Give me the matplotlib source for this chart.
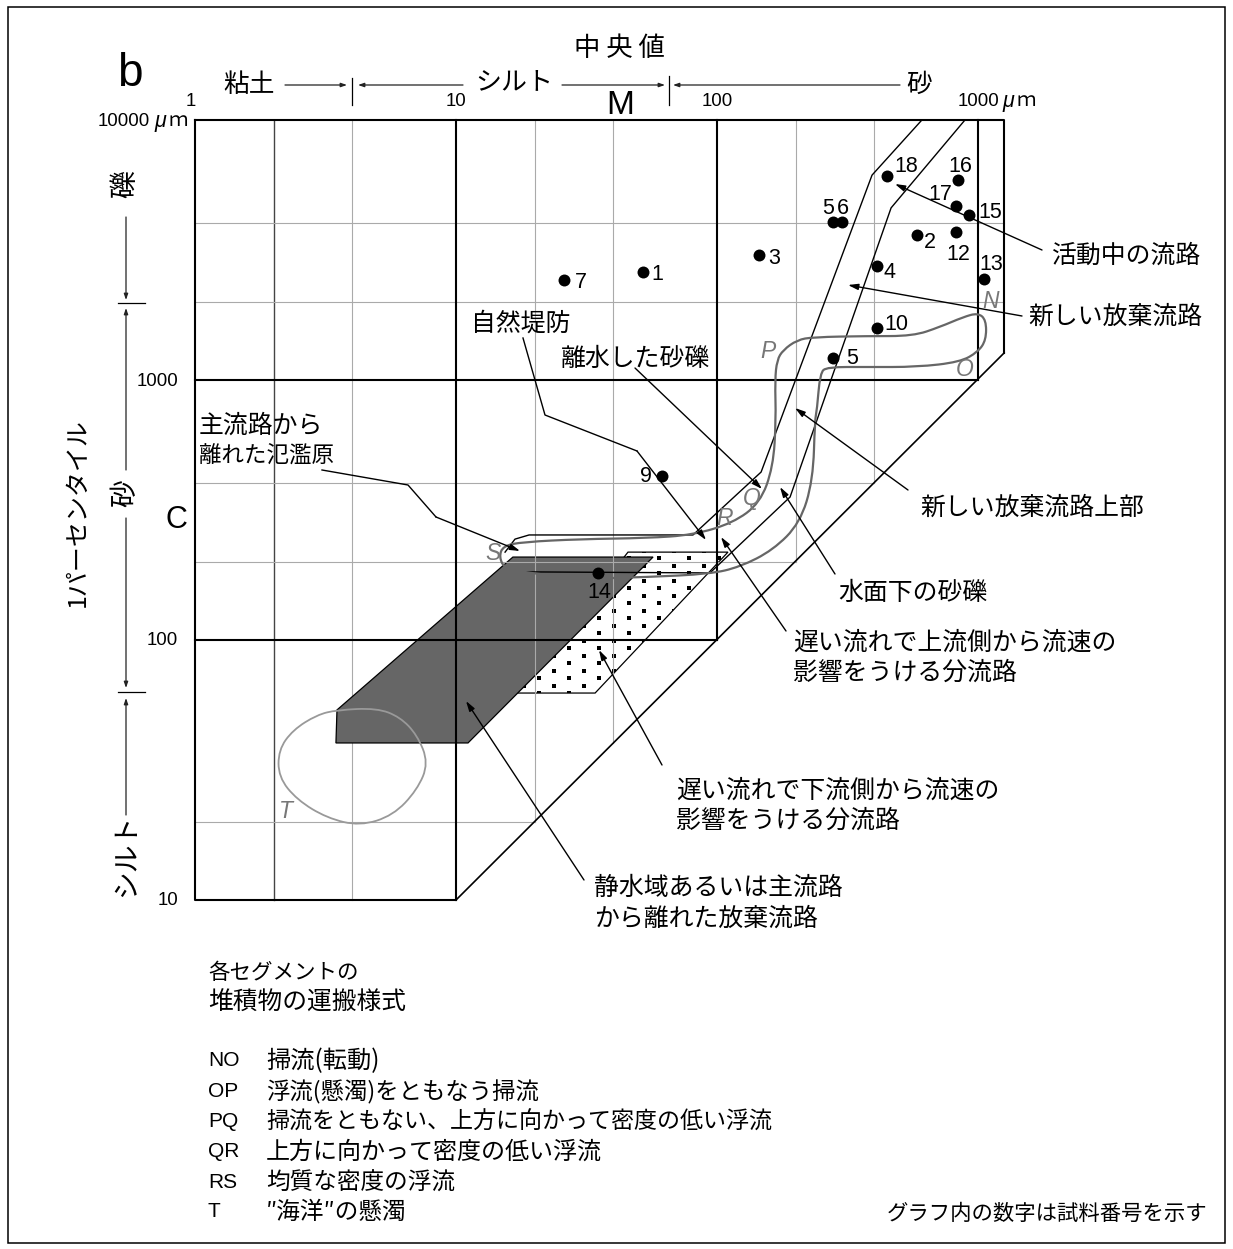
import numpy as np
import matplotlib
matplotlib.use('Agg')
import matplotlib.pyplot as plt
from matplotlib.path import Path
from matplotlib.patches import PathPatch, Polygon, Rectangle
from matplotlib.transforms import Affine2D

# samples : median M and one percentile C, in micrometres
sample_names = ['1', '2', '3', '4', '5', '5', '6', '7', '9', '10', '12', '13', '14', '15', '16', '17', '18']
sample_M = [52, 583, 145, 410, 278, 278, 301, 26, 61.5, 410, 824, 1054, 35, 925, 838, 824, 448]
sample_C = [2600, 3614, 3027, 2742, 4055, 1216, 4055, 2427, 428, 1585, 3707, 2443, 181, 4315, 5875, 4667, 6095]

# envelopes, log10(M) and log10(C)
channel_left_lM = [2.785, 2.594, 2.169, 1.908, 1.280, 1.226, 1.188]
channel_left_lC = [4.000, 3.788, 2.646, 2.404, 2.404, 2.388, 2.338]
channel_right_lM = [2.950, 2.667, 2.280, 1.973, 1.272]
channel_right_lC = [4.000, 3.662, 2.550, 2.258, 2.262]

loop_lM = [3.000, 3.031, 3.031, 3.000, 2.931, 2.766, 2.575, 2.421, 2.395, 2.383, 2.375, 2.368, 2.318,
           2.215, 2.088, 1.973, 1.732, 1.475, 1.284, 1.188, 1.165, 1.180, 1.257, 1.475, 1.732, 1.908,
           2.061, 2.165, 2.215, 2.226, 2.222, 2.230, 2.253, 2.307, 2.368, 2.575, 2.751, 2.854, 2.943]
loop_lC = [3.258, 3.231, 3.154, 3.108, 3.069, 3.050, 3.050, 3.050, 3.027, 2.885, 2.846, 2.615, 2.450,
           2.346, 2.281, 2.254, 2.242, 2.235, 2.258, 2.273, 2.319, 2.362, 2.377, 2.388, 2.392, 2.404,
           2.450, 2.527, 2.665, 2.846, 3.000, 3.077, 3.115, 3.154, 3.165, 3.169, 3.169, 3.204, 3.242]

blob_lM = [0.544, 0.697, 0.785, 0.851, 0.895, 0.851, 0.759, 0.632, 0.506, 0.391, 0.320, 0.320, 0.375, 0.467]
blob_lC = [1.731, 1.738, 1.704, 1.635, 1.527, 1.423, 1.325, 1.285, 1.315, 1.385, 1.473, 1.577, 1.654, 1.712]

dark_lM = [0.544, 1.218, 1.755, 1.046, 0.540]
dark_lC = [1.731, 2.319, 2.319, 1.604, 1.604]
dotted_lM = [1.659, 2.042, 1.533, 1.234]
dotted_lC = [2.338, 2.338, 1.796, 1.796]

grid_M = [20, 40, 200, 400]
grid_C = [4000, 2000, 400, 200, 20]

W, H = 1233, 1249
JP = ['Noto Sans CJK JP', 'DejaVu Sans']
LAT = ['Liberation Sans', 'DejaVu Sans']

fig = plt.figure(figsize=(W / 100, H / 100), dpi=100)
ax = fig.add_axes([0, 0, 1, 1])
ax.set_xscale('log')
ax.set_yscale('log')
ax.set_xlim(10 ** (-195 / 261), 10 ** ((W - 195) / 261))
ax.set_ylim(10 ** (1 + (900 - H) / 260), 10 ** (1 + 900 / 260))
ax.axis('off')

# picture pixels, for text and leader lines
ptr = Affine2D().scale(1 / W, -1 / H).translate(0, 1) + fig.transFigure


def pw(a):
    return 10 ** np.array(a)


def smooth_path(lx, ly):
    # closed quadratic spline, the points are control points
    pts = np.column_stack([pw(lx), pw(ly)])
    # midpoints taken in log space so the curve stays even on the page
    lp = np.column_stack([lx, ly])
    mid = 10 ** ((lp + np.roll(lp, -1, axis=0)) / 2)
    verts = [mid[-1]]
    codes = [Path.MOVETO]
    for i in range(len(pts)):
        verts += [pts[i], mid[i]]
        codes += [Path.CURVE3, Path.CURVE3]
    return Path(verts, codes)


def label(x, y, s, size=17.9, ha='left', va='center', family=JP, **kw):
    ax.text(x, y + 2, s, transform=ptr, fontsize=size, ha=ha, va=va, family=family, **kw)


def leader(pts):
    xs = [p[0] for p in pts[:-1]]
    ys = [p[1] for p in pts[:-1]]
    ax.plot(xs, ys, color='k', lw=1, transform=ptr, zorder=8)
    ax.annotate('', xy=pts[-1], xytext=pts[-2], xycoords=ptr, textcoords=ptr, zorder=8,
                arrowprops=dict(arrowstyle='-|>,head_length=0.6,head_width=0.18', color='k', lw=1,
                                shrinkA=0, shrinkB=0))


def span(pts):
    ax.annotate('', xy=pts[1], xytext=pts[0], xycoords=ptr, textcoords=ptr,
                arrowprops=dict(arrowstyle='-|>,head_length=0.35,head_width=0.12', color='#222', lw=0.9,
                                shrinkA=0, shrinkB=0))


fig.add_artist(Rectangle((8 / W, 1 - 1243 / H), (1225 - 8) / W, (1243 - 7) / H, fill=False, ec='k', lw=1.1,
                         transform=fig.transFigure))

# thin grid
for m in [2, 4]:
    ax.plot([m, m], [10, 10000], color='#444444' if m == 2 else '#aaaaaa', lw=1 if m == 2 else 0.8, zorder=2)
for m in grid_M:
    ax.plot([m, m], [m, 10000], color='#aaaaaa', lw=0.8, zorder=3)
for c in grid_C:
    ax.plot([1, min(10 ** 3.1, c)], [c, c], color='#aaaaaa', lw=0.8, zorder=3)

# shaded segments
ax.add_patch(Polygon(np.column_stack([pw(dotted_lM), pw(dotted_lC)]), closed=True, fc='white', ec='k', lw=0.9, zorder=1))
dot_clip = Polygon(np.column_stack([pw(dotted_lM), pw(dotted_lC)]), closed=True, transform=ax.transData)
dx = 30 / 261
dy = 7.5 / 260
dot_x, dot_y = [], []
for k in range(-2, 22):
    for n in range(-8, 4):
        dot_x.append(1.778 + n * dx + (k % 2) * dx / 2)
        dot_y.append(2.315 - k * dy)
dots = ax.scatter(pw(dot_x), pw(dot_y), marker='s', s=7, color='k', lw=0, zorder=1.5)
dots.set_clip_path(dot_clip)
ax.add_patch(Polygon(np.column_stack([pw(dark_lM), pw(dark_lC)]), closed=True, fc='#666666', ec='k', lw=0.9, zorder=2.5))

# box of the diagram
box = dict(color='k', lw=1.5, zorder=5, solid_capstyle='projecting')
ax.plot([1, 1, 10], [10000, 10, 10], **box)
ax.plot([1, 10 ** 3.1, 10 ** 3.1], [10000, 10000, 10 ** 3.104], **box)
ax.plot([1000, 1000], [10000, 1000], **box)
ax.plot([10, 10], [10000, 10], **box)
ax.plot([100, 100], [10000, 100], **box)
ax.plot([1, 1000], [1000, 1000], **box)
ax.plot([1, 100], [100, 100], **box)
ax.plot([10 ** 3.1, 10], [10 ** 3.104, 10], color='k', lw=1.2, zorder=5)

# channels
ax.plot(pw(channel_left_lM), pw(channel_left_lC), color='k', lw=1, zorder=6)
ax.plot(pw(channel_right_lM), pw(channel_right_lC), color='k', lw=1, zorder=6)
ax.add_patch(PathPatch(smooth_path(loop_lM, loop_lC), fc='none', ec='#666666', lw=1.6, zorder=7))
ax.add_patch(PathPatch(smooth_path(blob_lM, blob_lC), fc='none', ec='#999999', lw=1.3, zorder=7))

ax.plot(sample_M, sample_C, 'o', color='k', ms=8.6, mew=0, zorder=9)
sample_label_x = [657, 930, 774, 890, 828, 852, 843, 581, 646, 896, 958, 991, 599, 990, 960, 940, 906]
sample_label_y = [272, 240, 257, 270, 206, 357, 206, 281, 475, 322, 252, 263, 591, 211, 164, 192, 165]
for n, x, y in zip(sample_names, sample_label_x, sample_label_y):
    label(x, y, n, size=15.5, ha='center', family=LAT, zorder=10)

# segment letters
for s, x, y in [('N', 991, 301), ('O', 965, 369), ('P', 768, 351), ('Q', 752, 498), ('R', 725, 519), ('S', 493, 554), ('T', 286, 812)]:
    label(x, y - 2, s, size=16.5, ha='center', family=LAT, style='italic', color='#777777', zorder=10)

# leaders
leader([(1042, 250), (895, 184)])
leader([(1022, 316), (848, 285)])
leader([(523, 338), (545, 415), (637, 451), (706, 540)])
leader([(635, 368), (762, 489)])
leader([(322, 470), (408, 485), (436, 517), (520, 551)])
leader([(908, 490), (795, 408)])
leader([(835, 574), (780, 487)])
leader([(786, 631), (721, 537)])
leader([(662, 765), (599, 650)])
leader([(584, 880), (466, 701)])

# top scale
label(619, 47, '中 央 値', size=19, ha='center')
label(249, 83, '粘土', size=18.5, ha='center')
label(514, 80, 'シルト', size=18.7, ha='center')
label(919, 83, '砂', size=18.5, ha='center')
label(620, 103, 'M', size=24, ha='center', family=LAT)
label(130, 72, 'b', size=33, ha='center', family=LAT)
label(176, 518, 'C', size=22, ha='center', family=LAT)
span([(285, 85), (347, 85)])
span([(463, 85), (358, 85)])
span([(562, 85), (665, 85)])
span([(900, 85), (673, 85)])
ax.plot([352, 352], [78, 105], color='k', lw=0.9, transform=ptr)
ax.plot([669, 669], [76, 105], color='k', lw=0.9, transform=ptr)

# side scale
label(125, 182, '礫', size=20, ha='center', rotation=90)
label(125, 491, '砂', size=20, ha='center', rotation=90)
label(126, 853, 'シルト', size=20, ha='center', rotation=90)
label(78, 511, '1パーセンタイル', size=18, ha='center', rotation=90)
span([(126, 217), (126, 300)])
span([(126, 470), (126, 308)])
span([(126, 518), (126, 688)])
span([(126, 815), (126, 698)])
ax.plot([118, 145], [303, 303], color='k', lw=0.9, transform=ptr)
ax.plot([118, 145], [692, 692], color='k', lw=0.9, transform=ptr)

# tick labels
for s, x, y, ha in [('1', 191, 101, 'center'), ('10', 456, 101, 'center'), ('100', 717, 101, 'center'),
                    ('1000', 958, 101, 'left'), ('10000', 98, 121, 'left'),
                    ('1000', 178, 381, 'right'), ('100', 178, 640, 'right'), ('10', 178, 900, 'right')]:
    label(x, y - 1, s, size=13.4, ha=ha, family=LAT)
for x, y in [(1008, 99), (160, 120)]:
    label(x, y, 'μ', size=15.5, ha='center', family=LAT, style='italic')
    label(x + 18, y - 1, 'ｍ', size=14, ha='center')

# callouts
label(471, 322, '自然堤防')
label(561, 357, '離水した砂礫')
label(199, 424, '主流路から')
label(199, 454, '離れた氾濫原', size=16.2)
label(1052, 254, '活動中の流路')
label(1028, 315, '新しい放棄流路')
label(920, 506, '新しい放棄流路上部')
label(838, 591, '水面下の砂礫')
label(793, 641, '遅い流れで上流側から流速の')
label(793, 671, '影響をうける分流路')
label(676, 789, '遅い流れで下流側から流速の')
label(676, 819, '影響をうける分流路')
label(594, 886, '静水域あるいは主流路')
label(594, 917, 'から離れた放棄流路')

# legend text
label(208, 971, '各セグメントの', size=15.5)
label(208, 1001, '堆積物の運搬様式', size=17.8)
legend_codes = ['NO', 'OP', 'PQ', 'QR', 'RS', 'T']
legend_text = ['掃流(転動)', '浮流(懸濁)をともなう掃流', '掃流をともない、上方に向かって密度の低い浮流',
               '上方に向かって密度の低い浮流', '均質な密度の浮流', '″海洋″の懸濁']
legend_size = [17.5, 16.8, 16.6, 17.3, 17, 17]
legend_y = [1059, 1090, 1120, 1150, 1181, 1210]
for c, t, s, y in zip(legend_codes, legend_text, legend_size, legend_y):
    label(208, y, c, size=15, family=LAT)
    label(266, y, t, size=s)
label(1207, 1212, 'グラフ内の数字は試料番号を示す', size=15.4, ha='right')

fig.savefig('out.png', dpi=100)
